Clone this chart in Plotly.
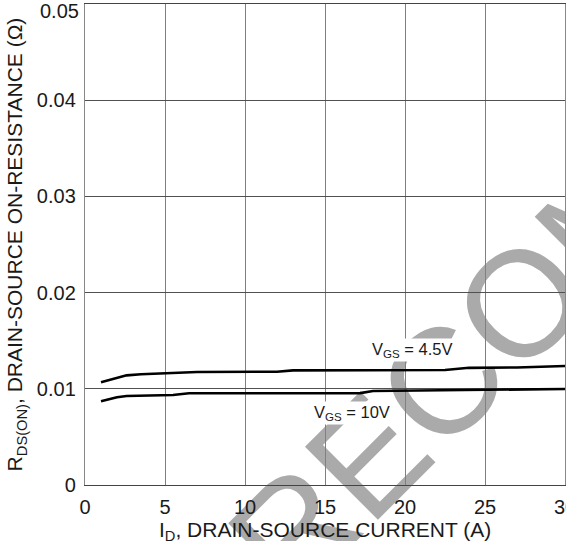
import plotly.graph_objects as go

# ---- data ----
id_45 = [1.0, 1.5, 2.0, 2.6, 3.5, 5.0, 6.0, 7.0, 12.0, 13.0, 22.5, 24.0, 27.0, 30.0]
r_45 = [0.01067, 0.01090, 0.01115, 0.01140, 0.01152, 0.01160, 0.01162, 0.01175,
        0.01178, 0.01192, 0.01195, 0.01218, 0.01222, 0.01237]

id_10 = [1.0, 1.5, 2.0, 2.6, 4.0, 5.5, 6.5, 17.2, 18.0, 25.0, 30.0]
r_10 = [0.00870, 0.00895, 0.00912, 0.00925, 0.00932, 0.00936, 0.00953,
        0.00955, 0.00977, 0.00988, 0.00998]

x_ticks = [0, 5, 10, 15, 20, 25, 30]
y_ticks = [0, 0.01, 0.02, 0.03, 0.04, 0.05]
y_ticktext = ["0", "0.01", "0.02", "0.03", "0.04", "0.05"]

label_45 = "V<sub>GS</sub> = 4.5V"
label_10 = "V<sub>GS</sub> = 10V"
x_title = "I<sub>D</sub>, DRAIN-SOURCE CURRENT (A)"
y_title = "R<sub>DS(ON)</sub>, DRAIN-SOURCE ON-RESISTANCE (\u03a9)"
watermark = "RECOMMENDED"

FONT = "Liberation Sans, Arial, sans-serif"

fig = go.Figure()
fig.add_trace(go.Scatter(x=id_45, y=r_45, mode="lines",
                         line=dict(color="black", width=2.6), showlegend=False))
fig.add_trace(go.Scatter(x=id_10, y=r_10, mode="lines",
                         line=dict(color="black", width=2.6), showlegend=False))

fig.update_layout(
    width=566, height=541,
    margin=dict(l=85, r=1, t=4, b=56, autoexpand=False),
    paper_bgcolor="white", plot_bgcolor="white",
    font=dict(family=FONT, size=20, color="#1a1a1a"),
    showlegend=False,
)
fig.update_xaxes(range=[0, 30], tickvals=x_ticks, ticks="", showgrid=True,
                 gridcolor="#808080", gridwidth=1.4, showline=True, mirror=True,
                 linecolor="#444444", linewidth=1.2, zeroline=False,
                 ticklabelstandoff=4, ticklabeloverflow="allow", automargin=False,
                 tickfont=dict(size=20))
# top tick label is drawn separately (shifted down to stay inside the page)
y_ticktext_axis = y_ticktext[:-1] + [""]
fig.update_yaxes(range=[0, 0.05], tickvals=y_ticks, ticktext=y_ticktext_axis, ticks="",
                 showgrid=True, gridcolor="#505050", gridwidth=1.1, showline=True,
                 mirror=True, linecolor="#888888", linewidth=1.4, zeroline=False,
                 ticklabelstandoff=4, ticklabeloverflow="allow", automargin=False,
                 tickfont=dict(size=20))
fig.add_annotation(x=0, xref="paper", xanchor="right", xshift=-4,
                   y=y_ticks[-1], yref="y", yanchor="top", yshift=6,
                   text=y_ticktext[-1], showarrow=False,
                   font=dict(family=FONT, size=20, color="#1a1a1a"))

# watermark (drawn beneath everything)
fig.add_shape(type="line", xref="paper", yref="paper",
              x0=1.339, x1=1.359, y0=0.606, y1=0.606,
              line=dict(width=0, color="rgba(0,0,0,0)"), layer="below",
              label=dict(text=watermark, textangle=-45, textposition="middle",
                         font=dict(family=FONT, size=150, color="#aaaaaa")))

# curve labels
fig.add_annotation(x=20.44, y=0.01403, xref="x", yref="y", text=label_45,
                   showarrow=False, bgcolor="white", borderpad=1,
                   font=dict(family=FONT, size=16.5, color="#1a1a1a"))
fig.add_annotation(x=16.7, y=0.00745, xref="x", yref="y", text=label_10,
                   showarrow=False, bgcolor="white", borderpad=1,
                   font=dict(family=FONT, size=16.5, color="#1a1a1a"))

# axis titles
fig.add_annotation(x=0.5, xref="paper", y=-0.095, yref="paper", yanchor="middle",
                   text=x_title, showarrow=False,
                   font=dict(family=FONT, size=21, color="#1a1a1a"))
fig.add_annotation(x=-0.144, xref="paper", y=0.5, yref="paper", xanchor="center",
                   text=y_title, showarrow=False, textangle=-90,
                   font=dict(family=FONT, size=21, color="#1a1a1a"))

fig.write_html("out.html")
